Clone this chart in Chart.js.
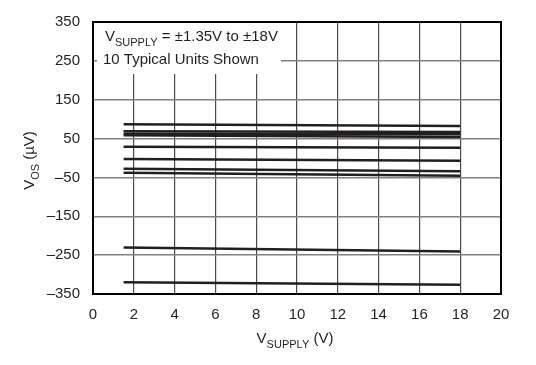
<!DOCTYPE html>
<html>
<head>
<meta charset="utf-8">
<script src="https://cdn.jsdelivr.net/npm/chart.js@4/dist/chart.umd.min.js"></script>
<style>
html,body{margin:0;padding:0;background:#fff;}
#wrap{width:536px;height:365px;position:relative;}
</style>
</head>
<body>
<div id="wrap"><canvas id="c" width="536" height="365"></canvas></div>
<script>
// Supply voltage endpoints (V) of each sweep
const supplyV = [1.5, 18];
// Offset voltage (µV) of each typical unit at the sweep endpoints
const unit1 = [86.6, 82.3];
const unit2 = [68.8, 67.0];
const unit3 = [62.7, 61.0];
const unit4 = [58.7, 54.3];
const unit5 = [28.9, 26.3];
const unit6 = [-2.4, -6.8];
const unit7 = [-27.9, -34.0];
const unit8 = [-38.0, -45.7];
const unit9 = [-230.4, -240.6];
const unit10 = [-319.5, -326.0];
const units = [unit1, unit2, unit3, unit4, unit5, unit6, unit7, unit8, unit9, unit10];
// Axis ranges / ticks
const xTicks = [0, 2, 4, 6, 8, 10, 12, 14, 16, 18, 20];
const yTicks = [-350, -250, -150, -50, 50, 150, 250, 350];

const INK = '#231f20';
const FONT = "'Liberation Sans', Arial, Helvetica, sans-serif";

const datasets = units.map(u => ({
  data: supplyV.map((x, i) => ({x: x, y: u[i]})),
  borderColor: INK,
  borderWidth: 2.5,
  pointRadius: 0,
  fill: false,
  tension: 0
}));

function drawSub(ctx, x, y, parts) {
  let cx = x;
  for (const [t, s, dy] of parts) {
    ctx.font = s + 'px ' + FONT;
    ctx.fillText(t, cx, y + dy);
    cx += ctx.measureText(t).width;
  }
  return cx - x;
}
function measureSub(ctx, parts) {
  let w = 0;
  for (const [t, s] of parts) { ctx.font = s + 'px ' + FONT; w += ctx.measureText(t).width; }
  return w;
}

const deco = {
  id: 'deco',
  beforeDatasetsDraw(chart) {
    const ctx = chart.ctx;
    ctx.save();
    ctx.fillStyle = '#fff';
    ctx.fillRect(97, 21, 184, 53);
    ctx.fillStyle = INK;
    ctx.textBaseline = 'alphabetic';
    ctx.textAlign = 'left';
    drawSub(ctx, 105, 41, [['V', 15, 0], ['SUPPLY', 11, 5], [' = \u00b11.35V to \u00b118V', 15, 0]]);
    ctx.font = '15px ' + FONT;
    ctx.fillText('10 Typical Units Shown', 103, 63.5);
    ctx.restore();
  },
  afterDraw(chart) {
    const ctx = chart.ctx;
    const a = chart.chartArea;
    ctx.save();
    ctx.strokeStyle = '#000';
    ctx.lineWidth = 2;
    ctx.strokeRect(a.left, a.top, a.right - a.left, a.bottom - a.top);
    ctx.fillStyle = INK;
    ctx.textBaseline = 'alphabetic';
    const xt = [['V', 15, 0], ['SUPPLY', 11, 5], [' (V)', 15, 0]];
    const w = measureSub(ctx, xt);
    drawSub(ctx, 295 - w / 2, 342.5, xt);
    ctx.translate(33.5, 160.5);
    ctx.rotate(-Math.PI / 2);
    const yt = [['V', 15, 0], ['OS', 11, 5], [' (\u00b5V)', 15, 0]];
    const wy = measureSub(ctx, yt);
    drawSub(ctx, -wy / 2, 0, yt);
    ctx.restore();
  }
};

new Chart(document.getElementById('c'), {
  type: 'line',
  data: { datasets },
  plugins: [deco],
  options: {
    responsive: false,
    animation: false,
    events: [],
    layout: { padding: { left: 0, right: 35, top: 20, bottom: 0 } },
    plugins: { legend: { display: false }, tooltip: { enabled: false } },
    scales: {
      x: {
        type: 'linear',
        min: xTicks[0], max: xTicks[xTicks.length - 1],
        afterBuildTicks(s) { s.ticks = xTicks.map(v => ({value: v})); },
        afterFit(s) { s.height = 71; },
        grid: { color: '#4a4a4a', lineWidth: 1.2, drawTicks: false },
        border: { display: false },
        ticks: { color: INK, font: { family: FONT, size: 15 }, padding: 12, maxRotation: 0 }
      },
      y: {
        type: 'linear',
        min: yTicks[0], max: yTicks[yTicks.length - 1],
        afterBuildTicks(s) { s.ticks = yTicks.map(v => ({value: v})); },
        afterFit(s) { s.width = 93; },
        grid: { color: '#808080', lineWidth: 1.5, drawTicks: false },
        border: { display: false },
        ticks: {
          color: INK, font: { family: FONT, size: 15 }, padding: 13,
          callback: v => String(v).replace('-', '\u2013')
        }
      }
    }
  }
});
</script>
</body>
</html>
